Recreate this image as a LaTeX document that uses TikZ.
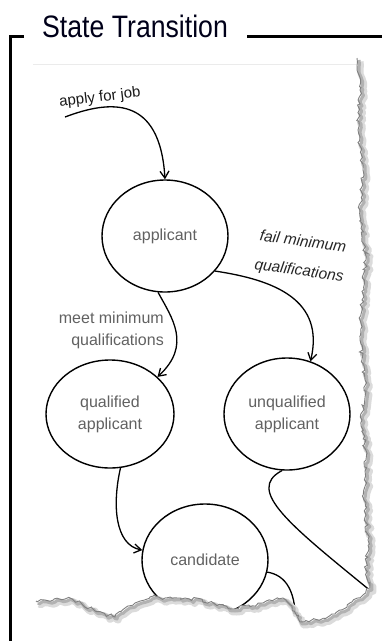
\documentclass[tikz,border=0pt]{standalone}
\usepackage{fontspec}
\setmainfont{Liberation Sans}
\usetikzlibrary{shapes.geometric,arrows.meta,decorations.pathmorphing}

% torn right and bottom edge of the sheet
\newcommand\tornedge{(357,58) -- (360,90) -- (358,130) -- (363,170) -- (360,210) -- (366,260)
  -- (362,300) -- (360,340) -- (365,380) -- (362,420) -- (366,460) -- (364,500) -- (368,540)
  -- (366,570) -- (370,588) -- (352,602) -- (335,614) -- (318,620) -- (300,622) -- (292,606)
  -- (283,598) -- (263,603) -- (233,609) -- (210,602) -- (185,598) -- (150,597) -- (135,603)
  -- (115,617) -- (95,611) -- (70,598) -- (45,600) -- (36,601)}

\begin{document}
\begin{tikzpicture}[x=1pt,y=-1pt,
  every node/.style={font=\fontsize{16}{22}\selectfont},
  state/.style={ellipse, draw=black, line width=1.4pt, inner sep=0pt,
    minimum width=126pt, minimum height=112pt, align=center, text=black!62},
  lbl/.style={text=black!62, inner sep=0pt},
  a/.style={-{Straight Barb[length=7pt,width=9pt]}, line width=1.3pt},
  tail/.style={line width=1.3pt},
  frame/.style={line width=3pt, black},
  torn/.style={decorate, decoration={random steps, segment length=3pt, amplitude=2pt}}
]
\useasboundingbox (0,0) rectangle (382,641);

% states
\node[state] (appl) at (165,236) {applicant};
\node[state, minimum width=128pt, minimum height=108pt] (qual) at (110,414) {qualified\\applicant};
\node[state] (unq) at (287,414) {unqualified\\applicant};
\node[state] (cand) at (205,560) {candidate};

% labels
\node[lbl, rotate=7, text=black!90, font=\fontsize{15}{18}\selectfont] (jobl) at (100,98) {apply for job};
\node[lbl, anchor=east, align=right] (meetl) at (164,330) {meet minimum\\qualifications};
\node[lbl, rotate=-8, align=center, text=black!85,
  font=\fontsize{15.5}{29}\selectfont\itshape] (faill) at (301,257) {fail minimum\\qualifications};

\coordinate (jobstart) at (65,117);
\coordinate (unqexit) at (372,592);
\coordinate (candexit) at (295,632);

% transitions
\draw[a] (jobstart) .. controls (110,100) and (160,95) .. (appl.north);
\draw[a] (appl.-97) .. controls (172,318) and (192,345) .. (qual.38);
\draw[a] (appl.-35) .. controls (275,280) and (325,300) .. (unq.66);
\draw[a] (qual.-79) .. controls (112,505) and (115,545) .. (cand.171);
\draw[tail] (unq.-95) .. controls (245,490) and (290,525) .. (unqexit);
\draw[tail] (cand.-11) .. controls (285,575) and (298,590) .. (candexit);

% sheet edge with shadow
\pgfmathsetseed{11}
\fill[white, torn] \tornedge -- (30,641) -- (382,641) -- (382,58) -- cycle;
\pgfmathsetseed{11}
\draw[torn, line width=6pt, black!14, shift={(3.5,3.5)}, line join=round] \tornedge;
\pgfmathsetseed{11}
\draw[torn, line width=3pt, black!30, shift={(2,2)}, line join=round] \tornedge;
\pgfmathsetseed{11}
\draw[torn, line width=0.9pt, black!50] \tornedge;
\draw[black!8, line width=1pt] (33,64) -- (356,64);

% frame and title
\draw[frame] (24,36) -| (10,641);
\draw[frame] (247,36) -- (382,36);
\node[anchor=base west, inner sep=0pt, xscale=0.86, text=black!90!blue,
  font=\fontsize{31}{31}\selectfont] (title) at (42,37) {State Transition};
\end{tikzpicture}
\end{document}
